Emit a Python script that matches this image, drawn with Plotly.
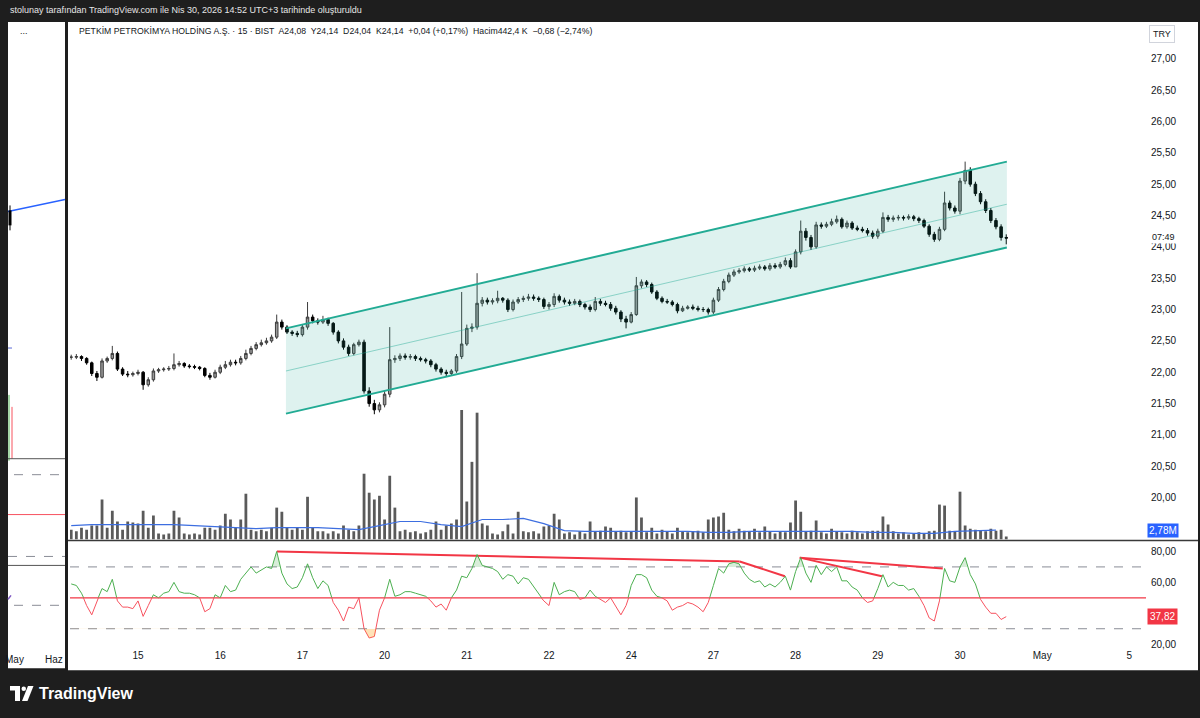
import plotly.graph_objects as go

W, H = 1200, 718
SLOTS = 16  # bars per session (30-min resolution)

# ---------------- data ----------------
day_pos = [-1, 0, 1, 2, 3, 4, 5, 6, 7, 8, 9, 10]          # sessions: 14,15,16,17,20,21,22,24,27,28,29,30
tick_pos = [0, 1, 2, 3, 4, 5, 6, 7, 8, 9, 10, 11, 12.06]
tick_text = ["15", "16", "17", "20", "21", "22", "24", "27", "28", "29", "30", "May", "5"]

close_by_day = [
    [22.24, 22.25, 22.22, 22.15, 21.98, 21.92, 22.18, 22.22, 22.30, 22.05, 21.97, 21.96, 21.98],
    [22.00, 21.80, 21.88, 22.02, 22.04, 22.05, 22.06, 22.12, 22.14, 22.10, 22.09, 22.08, 22.06, 21.95, 21.92, 22.00],
    [22.08, 22.12, 22.16, 22.15, 22.22, 22.30, 22.38, 22.44, 22.47, 22.50, 22.56, 22.80, 22.72, 22.64, 22.62, 22.60],
    [22.72, 22.88, 22.82, 22.80, 22.84, 22.78, 22.64, 22.50, 22.40, 22.30, 22.44, 22.48, 21.70, 21.50, 21.40, 21.48],
    [21.65, 22.20, 22.22, 22.26, 22.24, 22.25, 22.22, 22.20, 22.18, 22.12, 22.05, 22.00, 21.98, 22.02, 22.25, 22.45],
    [22.70, 22.72, 23.10, 23.15, 23.12, 23.14, 23.18, 23.15, 23.00, 23.12, 23.16, 23.18, 23.20, 23.18, 23.16, 23.05],
    [23.08, 23.21, 23.15, 23.12, 23.10, 23.13, 23.08, 23.04, 23.00, 23.13, 23.10, 23.08, 23.02, 22.96, 22.85, 22.80],
    [22.92, 23.38, 23.44, 23.40, 23.28, 23.18, 23.13, 23.12, 23.08, 22.98, 23.02, 23.04, 23.02, 23.00, 23.00, 22.96],
    [23.15, 23.32, 23.45, 23.55, 23.60, 23.62, 23.65, 23.63, 23.66, 23.68, 23.65, 23.70, 23.68, 23.72, 23.78, 23.68],
    [23.92, 24.25, 24.15, 24.00, 24.35, 24.33, 24.36, 24.40, 24.44, 24.32, 24.38, 24.30, 24.28, 24.26, 24.22, 24.17],
    [24.25, 24.47, 24.44, 24.46, 24.47, 24.46, 24.48, 24.45, 24.42, 24.33, 24.20, 24.12, 24.28, 24.70, 24.62, 24.57],
    [25.05, 25.22, 25.00, 24.85, 24.72, 24.58, 24.42, 24.32, 24.15, 24.14],
]

high_by_day = [
    [22.28, 22.29, 22.27, 22.24, 22.17, 22.02, 22.22, 22.25, 22.42, 22.33, 22.08, 22.02, 22.01],
    [22.04, 22.02, 21.92, 22.06, 22.07, 22.08, 22.10, 22.30, 22.18, 22.16, 22.13, 22.12, 22.10, 22.08, 21.99, 22.04],
    [22.12, 22.18, 22.20, 22.20, 22.26, 22.36, 22.42, 22.48, 22.52, 22.55, 22.60, 22.92, 22.84, 22.75, 22.67, 22.66],
    [22.76, 23.12, 22.92, 22.86, 22.90, 22.87, 22.80, 22.67, 22.54, 22.44, 22.47, 22.52, 22.52, 21.76, 21.56, 21.52],
    [21.70, 22.72, 22.27, 22.30, 22.30, 22.29, 22.28, 22.25, 22.23, 22.21, 22.15, 22.08, 22.04, 22.05, 22.29, 23.28],
    [22.76, 22.78, 23.58, 23.20, 23.19, 23.18, 23.30, 23.20, 23.18, 23.16, 23.20, 23.22, 23.25, 23.24, 23.21, 23.19],
    [23.12, 23.26, 23.24, 23.19, 23.16, 23.17, 23.16, 23.11, 23.08, 23.20, 23.17, 23.14, 23.12, 23.06, 22.99, 22.90],
    [22.96, 23.52, 23.48, 23.47, 23.43, 23.31, 23.21, 23.17, 23.15, 23.11, 23.06, 23.07, 23.08, 23.06, 23.04, 23.03],
    [23.19, 23.36, 23.49, 23.59, 23.64, 23.66, 23.69, 23.68, 23.70, 23.72, 23.71, 23.74, 23.74, 23.76, 23.83, 23.82],
    [23.96, 24.42, 24.30, 24.19, 24.40, 24.39, 24.40, 24.45, 24.50, 24.47, 24.42, 24.41, 24.34, 24.32, 24.30, 24.26],
    [24.29, 24.55, 24.51, 24.50, 24.51, 24.50, 24.52, 24.51, 24.48, 24.45, 24.36, 24.24, 24.32, 24.88, 24.74, 24.66],
    [25.10, 25.36, 25.27, 25.04, 24.89, 24.76, 24.62, 24.46, 24.36, 24.20],
]

low_by_day = [
    [22.20, 22.21, 22.18, 22.12, 21.94, 21.86, 21.90, 22.15, 22.19, 22.02, 21.94, 21.92, 21.93],
    [21.95, 21.72, 21.77, 21.85, 21.99, 22.01, 22.02, 22.03, 22.09, 22.07, 22.06, 22.05, 22.03, 21.92, 21.88, 21.90],
    [21.97, 22.05, 22.09, 22.11, 22.12, 22.19, 22.27, 22.35, 22.41, 22.44, 22.47, 22.53, 22.68, 22.61, 22.58, 22.56],
    [22.57, 22.68, 22.78, 22.76, 22.77, 22.74, 22.60, 22.46, 22.36, 22.26, 22.27, 22.41, 21.66, 21.45, 21.33, 21.36],
    [21.44, 21.60, 22.15, 22.18, 22.20, 22.20, 22.18, 22.17, 22.14, 22.08, 22.01, 21.96, 21.93, 21.95, 21.99, 22.21],
    [22.42, 22.64, 22.68, 23.05, 23.08, 23.08, 23.10, 23.11, 22.96, 22.97, 23.09, 23.12, 23.14, 23.14, 23.12, 23.01],
    [23.00, 23.04, 23.11, 23.08, 23.06, 23.07, 23.04, 23.00, 22.96, 22.97, 23.06, 23.05, 22.98, 22.92, 22.80, 22.70],
    [22.78, 22.90, 23.34, 23.36, 23.25, 23.15, 23.10, 23.09, 23.05, 22.94, 22.96, 23.00, 22.99, 22.97, 22.96, 22.92],
    [22.93, 23.12, 23.29, 23.42, 23.52, 23.57, 23.59, 23.60, 23.60, 23.63, 23.62, 23.62, 23.65, 23.65, 23.69, 23.65],
    [23.72, 23.88, 24.10, 23.95, 23.97, 24.29, 24.30, 24.33, 24.37, 24.29, 24.29, 24.27, 24.25, 24.23, 24.18, 24.13],
    [24.13, 24.22, 24.40, 24.40, 24.42, 24.42, 24.43, 24.41, 24.38, 24.30, 24.16, 24.08, 24.09, 24.25, 24.58, 24.53],
    [24.52, 25.00, 24.96, 24.81, 24.68, 24.54, 24.38, 24.28, 24.10, 24.04],
]

volume_by_day = [  # millions
    [2.9, 2.4, 3.5, 2.9, 4.1, 4.1, 11.8, 3.5, 8.5, 5.3, 2.9, 5.3, 5.0],
    [4.7, 8.5, 3.5, 7.1, 1.8, 1.5, 1.8, 8.5, 6.5, 1.8, 1.5, 1.8, 1.5, 3.5, 3.5, 2.9],
    [4.1, 7.6, 5.9, 3.5, 5.9, 13.5, 2.9, 2.4, 2.9, 2.4, 3.5, 9.4, 8.2, 3.5, 2.9, 3.5],
    [2.9, 12.6, 3.5, 2.4, 2.4, 1.8, 2.4, 1.8, 4.1, 2.9, 2.4, 4.1, 19.4, 13.8, 11.8, 12.9],
    [5.9, 18.8, 9.4, 2.4, 2.9, 2.1, 2.4, 1.8, 2.1, 2.9, 5.3, 2.9, 4.1, 4.7, 5.9, 38.2],
    [11.2, 22.9, 37.4, 4.7, 4.1, 1.8, 1.5, 2.4, 4.4, 1.8, 8.2, 2.4, 2.1, 2.4, 1.8, 3.8],
    [4.1, 7.6, 5.9, 1.8, 2.1, 1.5, 2.4, 1.8, 5.3, 2.4, 2.6, 3.8, 3.5, 2.4, 2.6, 2.1],
    [2.4, 12.4, 6.5, 2.1, 3.5, 1.8, 2.9, 2.4, 1.8, 3.5, 2.4, 2.1, 2.4, 2.6, 2.1, 5.9],
    [6.5, 6.8, 7.9, 2.9, 2.4, 3.2, 2.6, 2.4, 3.2, 2.1, 3.8, 2.4, 1.8, 2.4, 2.1, 5.0],
    [11.5, 8.2, 2.4, 2.6, 5.6, 2.1, 1.8, 3.2, 2.4, 2.1, 1.8, 2.6, 2.1, 1.8, 2.4, 2.6],
    [2.6, 6.8, 4.4, 2.4, 1.8, 2.1, 1.5, 1.8, 2.1, 1.8, 2.4, 2.6, 10.3, 10.0, 2.6, 2.4],
    [14.1, 4.1, 3.2, 2.9, 2.6, 2.4, 3.2, 2.6, 2.9, 0.9],
]

# volume moving average, one value every 4 bars
volume_ma = [4.1, 4.4, 4.4, 4.4, 4.4, 4.4, 4.1, 3.8, 3.5, 3.2, 3.5, 3.5, 3.5, 3.2, 2.9, 4.1,
             5.3, 5.3, 4.4, 3.8, 5.9, 5.9, 6.2, 4.7, 2.6, 2.4, 2.4, 2.4, 2.4, 2.4, 2.4, 2.1,
             2.1, 2.4, 2.4, 2.4, 2.6, 2.4, 2.4, 2.1, 2.1, 1.8, 1.8, 2.4, 2.6, 2.78]

rsi_by_day = [
    [59, 58, 53, 45, 39, 48, 56, 54, 62, 48, 44, 44, 43],
    [48, 38, 45, 52, 50, 53, 54, 60, 54, 53, 53, 52, 50, 41, 43, 52],
    [50, 58, 54, 55, 62, 66, 70, 66, 68, 70, 69, 80, 66, 59, 56, 57],
    [63, 72, 63, 56, 61, 58, 47, 42, 35, 44, 43, 50, 30, 24, 25, 42],
    [50, 62, 51, 52, 54, 54, 53, 52, 51, 48, 44, 46, 42, 50, 55, 64],
    [63, 69, 78, 71, 70, 69, 67, 62, 65, 64, 59, 63, 62, 57, 52, 48],
    [45, 60, 52, 54, 55, 54, 49, 50, 55, 51, 49, 47, 50, 44, 39, 45],
    [58, 65, 65, 63, 55, 51, 50, 48, 42, 44, 45, 47, 46, 44, 41, 47],
    [58, 69, 66, 72, 73, 72, 66, 62, 60, 61, 57, 59, 57, 60, 64, 55],
    [67, 76, 66, 60, 71, 65, 70, 67, 70, 61, 61, 57, 55, 50, 47, 48],
    [56, 65, 57, 60, 58, 58, 55, 56, 51, 45, 37, 35, 48, 69, 61, 60],
    [70, 76, 65, 59, 49, 44, 40, 40, 36, 37.82],
]

# regression channel drawing
channel_x = [1.80, 10.57]
channel_upper = [22.70, 25.36]
channel_mid = [22.02, 24.68]
channel_lower = [21.34, 23.99]

# RSI divergence drawings: (x0, r0, x1, r1)
div_x0 = [1.69, 7.32, 8.05, 8.05]
div_r0 = [80.0, 73.5, 76.0, 76.0]
div_x1 = [7.32, 7.87, 9.79, 9.05]
div_r1 = [73.5, 64.0, 69.0, 64.0]

price_ticks = [20.0, 20.5, 21.0, 21.5, 22.0, 22.5, 23.0, 23.5, 24.0, 24.5, 25.0, 25.5, 26.0, 26.5, 27.0]
price_tick_text = ["20,00", "20,50", "21,00", "21,50", "22,00", "22,50", "23,00", "23,50",
                   "24,00", "24,50", "25,00", "25,50", "26,00", "26,50", "27,00"]
rsi_ticks = [20, 40, 60, 80]
rsi_tick_text = ["20,00", "40,00", "60,00", "80,00"]
last_rsi_label = "37,82"
last_vol_label = "2,78M"

# ---------------- build series ----------------
xs, closes, highs, lows, vols, rsis = [], [], [], [], [], []
for i, c in enumerate(close_by_day):
    start = SLOTS - len(c) if i == 0 else 0
    for k in range(len(c)):
        xs.append(day_pos[i] + (start + k) / SLOTS)
    closes += c
    highs += high_by_day[i]
    lows += low_by_day[i]
    vols += volume_by_day[i]
    rsis += rsi_by_day[i]
opens = [closes[0]] + closes[:-1]
highs = [max(h, o, c) for h, o, c in zip(highs, opens, closes)]
lows = [min(l, o, c) for l, o, c in zip(lows, opens, closes)]
ma_x = xs[::4]

# ---------------- geometry helpers ----------------
def fx(p):
    return p / W

def fy(p):
    return 1 - p / H

X0, X1 = 70, 1146
PX_PER_DAY = 82.2
X_ORIGIN = 138
x_range = [(X0 - X_ORIGIN) / PX_PER_DAY, (X1 - X_ORIGIN) / PX_PER_DAY]

PRICE_TOP, PRICE_BOT = 22, 541
PX_PER_TRY = 62.86
price_range = [20 - (PRICE_BOT - 499) / PX_PER_TRY, 20 + (499 - PRICE_TOP) / PX_PER_TRY]
vol_range = [0, (PRICE_BOT - PRICE_TOP) / 3.4]

RSI_TOP, RSI_BOT = 545, 650
PX_PER_RSI = 1.55
def rsi_y(r):
    return 553 + (80 - r) * PX_PER_RSI
rsi_range = [80 - (RSI_BOT - 553) / PX_PER_RSI, 80 + (553 - RSI_TOP) / PX_PER_RSI]

FONT = "Liberation Sans"
TXT = "#131722"
BG = "#1e1e1e"
TEAL = "#22ab94"

fig = go.Figure()

# candles
fig.add_trace(go.Candlestick(
    x=xs, open=opens, high=highs, low=lows, close=closes,
    increasing=dict(line=dict(color="#3c3c3c", width=1), fillcolor="#9a9a9a"),
    decreasing=dict(line=dict(color="#000000", width=1), fillcolor="#000000"),
    whiskerwidth=0, hoverinfo="skip", showlegend=False, xaxis="x", yaxis="y"))

# channel drawing (above candles, like TradingView drawings)
fig.add_trace(go.Scatter(x=channel_x, y=channel_lower, mode="lines",
                         line=dict(color=TEAL, width=2), showlegend=False, hoverinfo="skip"))
fig.add_trace(go.Scatter(x=channel_x, y=channel_upper, mode="lines", fill="tonexty",
                         fillcolor="rgba(34,171,148,0.15)",
                         line=dict(color=TEAL, width=2), showlegend=False, hoverinfo="skip"))
fig.add_trace(go.Scatter(x=channel_x, y=channel_mid, mode="lines",
                         line=dict(color="rgba(34,171,148,0.45)", width=1),
                         showlegend=False, hoverinfo="skip"))

# volume
fig.add_trace(go.Bar(x=xs, y=vols, width=0.034, marker=dict(color="#5a5a5a", line=dict(width=0)),
                     yaxis="y2", showlegend=False, hoverinfo="skip"))
fig.add_trace(go.Scatter(x=ma_x, y=volume_ma, mode="lines", line=dict(color="#3d6ee0", width=1.2),
                         yaxis="y2", showlegend=False, hoverinfo="skip"))

# RSI fills beyond 70 / 30 (clipped by their own axis domains)
fig.add_trace(go.Scatter(x=xs, y=rsis, mode="lines", line=dict(width=0), fill="tozeroy",
                         fillcolor="rgba(76,175,80,0.22)", yaxis="y6",
                         showlegend=False, hoverinfo="skip"))
fig.add_trace(go.Scatter(x=[xs[0], xs[-1]], y=[30, 30], mode="lines", line=dict(width=0),
                         yaxis="y7", showlegend=False, hoverinfo="skip"))
fig.add_trace(go.Scatter(x=xs, y=rsis, mode="lines", line=dict(width=0), fill="tonexty",
                         fillcolor="rgba(255,152,0,0.28)", yaxis="y7",
                         showlegend=False, hoverinfo="skip"))
# RSI line, green above 50, red below
fig.add_trace(go.Scatter(x=xs, y=rsis, mode="lines", line=dict(color="#4caf50", width=1),
                         yaxis="y4", showlegend=False, hoverinfo="skip"))
fig.add_trace(go.Scatter(x=xs, y=rsis, mode="lines", line=dict(color="#f7525f", width=1),
                         yaxis="y5", showlegend=False, hoverinfo="skip"))
# divergence drawings
for a, b, c, d in zip(div_x0, div_r0, div_x1, div_r1):
    fig.add_trace(go.Scatter(x=[a, c], y=[b, d], mode="lines",
                             line=dict(color="#f23645", width=2),
                             yaxis="y3", showlegend=False, hoverinfo="skip"))

# ---------------- shapes ----------------
shapes = []
def rect(x0, y0, x1, y1, color, layer="below", line=None):
    shapes.append(dict(type="rect", xref="paper", yref="paper", x0=fx(x0), x1=fx(x1),
                       y0=fy(y1), y1=fy(y0), fillcolor=color, layer=layer,
                       line=line or dict(width=0)))

def pline(x0, y0, x1, y1, color, width=1, dash="solid", layer="above"):
    shapes.append(dict(type="line", xref="paper", yref="paper", x0=fx(x0), x1=fx(x1),
                       y0=fy(y0), y1=fy(y1), layer=layer,
                       line=dict(color=color, width=width, dash=dash)))

rect(68, 22, 1198, 672, "white")
rect(8, 22, 65, 670, "white")

# pane separator
pline(68, 542, 1198, 542, "#3a3a3a", 1.5)

# RSI guide lines
for r, col, dsh, wd in [(70, "#8a8d96", "dash", 1), (50, "#f23645", "solid", 1.2), (30, "#8a8d96", "dash", 1)]:
    shapes.append(dict(type="line", xref="paper", yref="y3", x0=fx(X0), x1=fx(X1), y0=r, y1=r,
                       layer="below", line=dict(color=col, width=wd, dash=dsh)))

# left (second chart) panel details
pline(8, 212, 65, 200, "#2962ff", 1.5)
pline(10, 206, 10, 231, "#000000", 1)
rect(8.5, 211, 11.5, 226, "#000000", layer="above")
pline(8, 349, 12, 349, "#5b6bd6", 1)
pline(9, 396, 9, 462, "#4caf50", 1)
pline(12, 408, 12, 460, "#f7525f", 1)
pline(8, 460, 65, 460, "#555555", 1)
pline(14, 476, 65, 476, "#8a8d96", 1, "dash")
pline(8, 516, 65, 516, "#f7525f", 1)
pline(8, 558, 65, 558, "#8a8d96", 1, "dash")
pline(8, 567, 65, 567, "#555555", 1)
pline(14, 607, 65, 607, "#8a8d96", 1, "dash")
pline(8, 601, 11, 597, "#7e57c2", 1.5)

# TradingView logo
def path_px(points):
    return "M " + " L ".join(f"{fx(x):.5f} {fy(y):.5f}" for x, y in points) + " Z"
shapes.append(dict(type="path", xref="paper", yref="paper", layer="above",
                   path=path_px([(10, 688), (20, 688), (20, 703), (15, 703), (15, 692.5), (10, 692.5)]),
                   fillcolor="white", line=dict(width=0)))
shapes.append(dict(type="circle", xref="paper", yref="paper", layer="above",
                   x0=fx(21.5), x1=fx(26), y0=fy(693), y1=fy(688.5), fillcolor="white", line=dict(width=0)))
shapes.append(dict(type="path", xref="paper", yref="paper", layer="above",
                   path=path_px([(28, 688), (33.5, 688), (27.5, 703), (22, 703)]),
                   fillcolor="white", line=dict(width=0)))

# ---------------- annotations ----------------
ann = []
def text(x, y, s, size=10, color=TXT, anchor="left", **kw):
    d = dict(x=fx(x), y=fy(y), xref="paper", yref="paper", text=s, showarrow=False,
             xanchor=anchor, yanchor="middle", font=dict(family=FONT, size=size, color=color))
    d.update(kw)
    ann.append(d)

text(8, 10, "stolunay tarafından TradingView.com ile Nis 30, 2026 14:52 UTC+3 tarihinde oluşturuldu",
     size=9, color="#e6e6e6")
text(77, 31, "PETKİM PETROKİMYA HOLDİNG A.Ş. · 15 · BIST  A24,08  Y24,14  D24,04  K24,14  "
             "+0,04 (+0,17%)  Hacim442,4 K  −0,68 (−2,74%)", size=8.7)
text(18, 31, "...", size=9)
text(14, 661, "May", size=10, anchor="center")
text(54, 661, "Haz", size=10, anchor="center")
text(1162, 34, "TRY", size=9, anchor="center", bgcolor="white", bordercolor="#d1d4dc",
     borderwidth=1, borderpad=3)
text(1163, 238, "07:49", size=9, anchor="center", bgcolor="white")
text(37, 695, "<b>TradingView</b>", size=16, color="white")

ann.append(dict(x=fx(1147), y=2.78, xref="paper", yref="y2", text=last_vol_label, showarrow=False,
                xanchor="left", yanchor="middle", bgcolor="#2962ff", borderpad=1,
                font=dict(family=FONT, size=10, color="white")))
ann.append(dict(x=fx(1147), y=37.82, xref="paper", yref="y3", text=last_rsi_label, showarrow=False,
                xanchor="left", yanchor="middle", bgcolor="#f23645", borderpad=2,
                font=dict(family=FONT, size=10, color="white")))

# ---------------- layout ----------------
price_dom = [fy(PRICE_BOT), fy(PRICE_TOP)]
rsi_dom = [fy(RSI_BOT), fy(RSI_TOP)]
y50 = fy(rsi_y(50))
y70 = fy(rsi_y(70))
y30 = fy(rsi_y(30))

hidden = dict(visible=False, showgrid=False, zeroline=False, fixedrange=True)

fig.update_layout(
    width=W, height=H,
    margin=dict(l=0, r=0, t=0, b=0),
    paper_bgcolor=BG, plot_bgcolor="rgba(0,0,0,0)",
    showlegend=False, boxgap=0.3,
    font=dict(family=FONT, size=10, color=TXT),
    xaxis=dict(domain=[fx(X0), fx(X1)], range=x_range, anchor="y3",
               tickvals=tick_pos, ticktext=tick_text, ticks="", showgrid=False,
               zeroline=False, showline=False, rangeslider=dict(visible=False),
               tickfont=dict(family=FONT, size=10, color=TXT)),
    yaxis=dict(domain=price_dom, range=price_range, side="right", anchor="x",
               tickvals=price_ticks, ticktext=price_tick_text, ticks="", showgrid=False,
               zeroline=False, showline=False, ticklabelstandoff=4,
               tickfont=dict(family=FONT, size=10, color=TXT)),
    yaxis2=dict(overlaying="y", range=vol_range, **hidden),
    yaxis3=dict(domain=rsi_dom, range=rsi_range, side="right", anchor="x",
                tickvals=rsi_ticks, ticktext=rsi_tick_text, ticks="", showgrid=False,
                zeroline=False, showline=False, ticklabelstandoff=4,
                tickfont=dict(family=FONT, size=10, color=TXT)),
    yaxis4=dict(domain=[y50, rsi_dom[1]], range=[50, rsi_range[1]], anchor="x", **hidden),
    yaxis5=dict(domain=[rsi_dom[0], y50], range=[rsi_range[0], 50], anchor="x", **hidden),
    yaxis6=dict(domain=[y70, rsi_dom[1]], range=[70, rsi_range[1]], anchor="x", **hidden),
    yaxis7=dict(domain=[rsi_dom[0], y30], range=[rsi_range[0], 30], anchor="x", **hidden),
    shapes=shapes, annotations=ann,
)

fig.write_html("out.html", config={"displayModeBar": False},
               post_script="document.body.style.margin='0';document.body.style.background='#1e1e1e';")
